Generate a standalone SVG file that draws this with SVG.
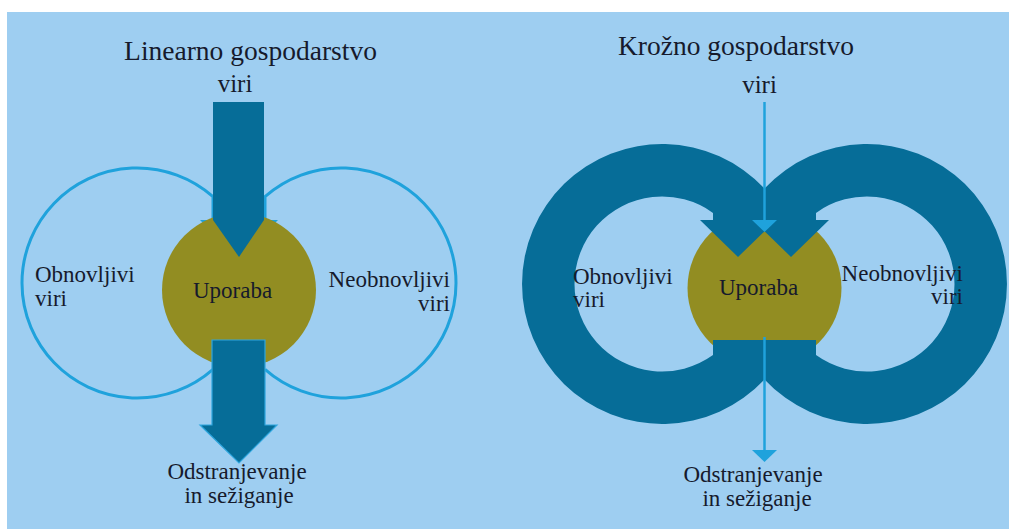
<svg xmlns="http://www.w3.org/2000/svg" width="1009" height="529" viewBox="0 0 1009 529">
  <style>
    .t { font-family: "Liberation Serif", "Times New Roman", serif; fill: #161a2c; }
    .title { font-size: 27.5px; }
    .lbl { font-size: 23px; }
    .src { font-size: 25px; }
    .use { fill: #928d22; }
    .dark { fill: #066d98; }
    .outline { fill: none; stroke: #1fa2dc; stroke-width: 3; }
    .lb { fill: #1fa2dc; }
    .thin { stroke: #1fa2dc; stroke-width: 2.5; }
  </style>
  <rect x="0" y="0" width="1009" height="529" fill="#ffffff"/>
  <rect x="7" y="12" width="1002" height="517" fill="#9ecef1"/>

  <!-- Linear economy -->
  <g id="linear">
    <text class="t title" x="250.5" y="60" text-anchor="middle">Linearno gospodarstvo</text>
    <g id="lin-renewable">
      <path class="outline" d="M213,369.3 A115,115 0 1 1 213,196.7 L213,222"/>
      <polygon class="lb" points="200,220 226,220 213,233"/>
      <text class="t lbl" x="35" y="282">Obnovljivi</text>
      <text class="t lbl" x="35" y="306">viri</text>
    </g>
    <g id="lin-nonrenewable">
      <path class="outline" d="M265,369.3 A115,115 0 1 0 265,196.7 L265,222"/>
      <polygon class="lb" points="252,220 278,220 265,233"/>
      <text class="t lbl" x="450" y="287" text-anchor="end">Neobnovljivi</text>
      <text class="t lbl" x="450" y="311" text-anchor="end">viri</text>
    </g>
    <g id="lin-use">
      <circle class="use" cx="239" cy="290" r="77"/>
    </g>
    <g id="lin-connectors">
      <polygon class="dark" points="213,102 264,102 264,220 239,257 213,220"/>
      <polygon class="dark" points="212,340 265,340 265,425 277,425 239,463 200,425 212,425" stroke="#2ea6de" stroke-width="1.2"/>
    </g>
    <text class="t lbl" x="232.5" y="298" text-anchor="middle">Uporaba</text>
    <g id="lin-source">
      <text class="t src" x="235" y="92" text-anchor="middle">viri</text>
    </g>
    <g id="lin-disposal">
      <text class="t lbl" x="237" y="479" text-anchor="middle">Odstranjevanje</text>
      <text class="t lbl" x="239" y="503" text-anchor="middle">in sežiganje</text>
    </g>
  </g>

  <!-- Circular economy -->
  <g id="circular">
    <text class="t title" x="736" y="55" text-anchor="middle">Krožno gospodarstvo</text>
    <g id="circ-use">
      <circle class="use" cx="764.5" cy="288" r="77"/>
    </g>
    <g id="circ-renewable">
      <path class="dark" d="M764.5,340 L764.5,379.4 A140,140 0 1 1 764.5,188.6 L764.5,220 L776,220 L738,257 L700,220 L713,220 L713,212.9 A87.5,87.5 0 1 0 713,355.1 L713,340 Z"/>
      <text class="t lbl" x="573" y="284">Obnovljivi</text>
      <text class="t lbl" x="573" y="307">viri</text>
    </g>
    <g id="circ-nonrenewable">
      <path class="dark" transform="translate(1529,0) scale(-1,1)" d="M764.5,340 L764.5,379.4 A140,140 0 1 1 764.5,188.6 L764.5,220 L776,220 L738,257 L700,220 L713,220 L713,212.9 A87.5,87.5 0 1 0 713,355.1 L713,340 Z"/>
      <text class="t lbl" x="963" y="281" text-anchor="end">Neobnovljivi</text>
      <text class="t lbl" x="963" y="304" text-anchor="end">viri</text>
    </g>
    <text class="t lbl" x="758.5" y="295" text-anchor="middle">Uporaba</text>
    <g id="circ-connectors">
      <line class="thin" x1="764.5" y1="102" x2="764.5" y2="222"/>
      <polygon class="lb" points="752,220 777,220 764.5,232"/>
      <line class="thin" x1="764.5" y1="337" x2="764.5" y2="452"/>
      <polygon class="lb" points="752,450 777,450 764.5,462"/>
    </g>
    <g id="circ-source">
      <text class="t src" x="759.5" y="93" text-anchor="middle">viri</text>
    </g>
    <g id="circ-disposal">
      <text class="t lbl" x="753" y="482" text-anchor="middle">Odstranjevanje</text>
      <text class="t lbl" x="757" y="506" text-anchor="middle">in sežiganje</text>
    </g>
  </g>
</svg>
